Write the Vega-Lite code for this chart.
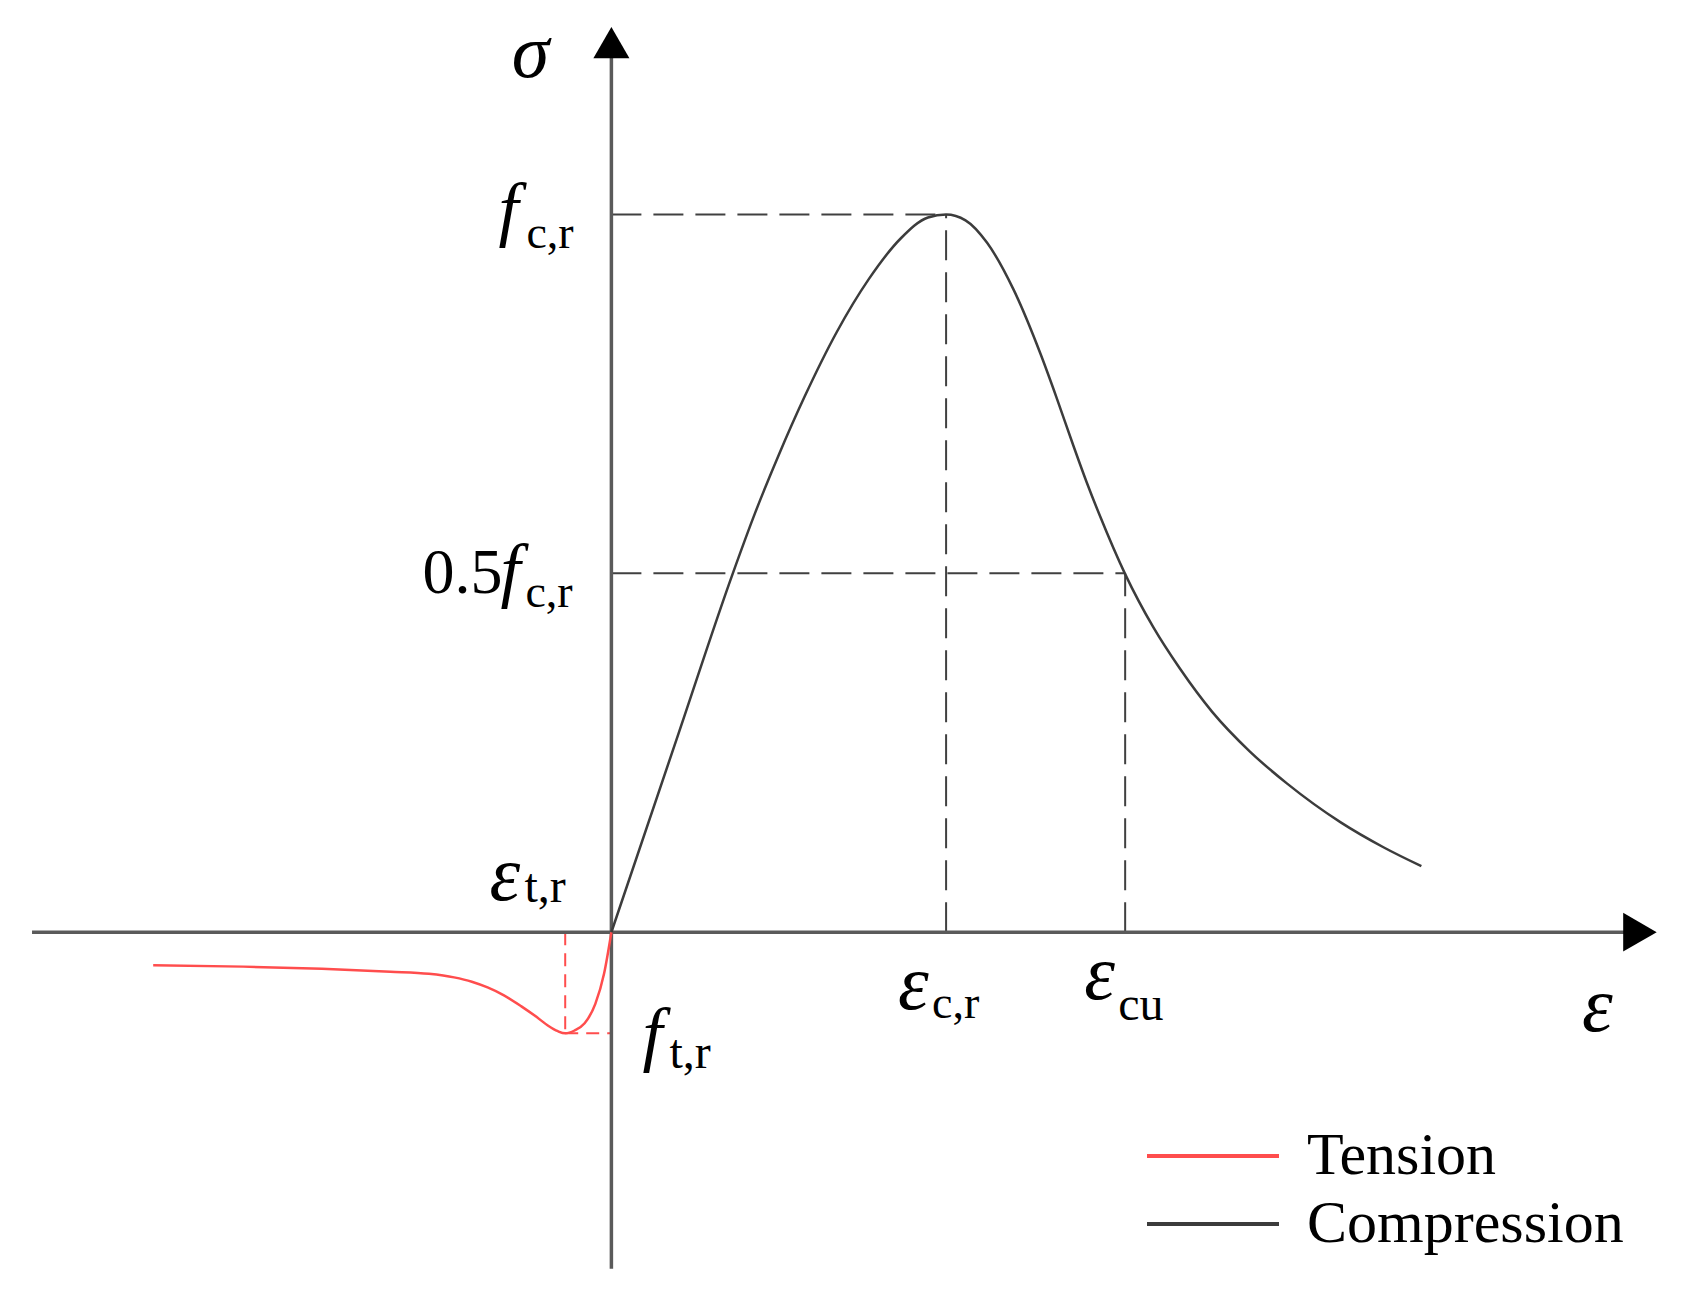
{
  "$schema": "https://vega.github.io/schema/vega-lite/v6.json",
  "width": 1682,
  "height": 1294,
  "autosize": {"type": "fit", "contains": "padding"},
  "padding": 0,
  "background": "white",
  "config": {"view": {"stroke": null}, "axis": {"disable": true}},
  "datasets": {
    "curves": [
      {"series": "Tension", "strain": -1.369, "stress": -0.046},
      {"series": "Tension", "strain": -1.1, "stress": -0.048},
      {"series": "Tension", "strain": -0.865, "stress": -0.051},
      {"series": "Tension", "strain": -0.66, "stress": -0.055},
      {"series": "Tension", "strain": -0.545, "stress": -0.058},
      {"series": "Tension", "strain": -0.47, "stress": -0.063},
      {"series": "Tension", "strain": -0.417, "stress": -0.069},
      {"series": "Tension", "strain": -0.37, "stress": -0.077},
      {"series": "Tension", "strain": -0.321, "stress": -0.088},
      {"series": "Tension", "strain": -0.27, "stress": -0.103},
      {"series": "Tension", "strain": -0.224, "stress": -0.118},
      {"series": "Tension", "strain": -0.19, "stress": -0.13},
      {"series": "Tension", "strain": -0.16, "stress": -0.138},
      {"series": "Tension", "strain": -0.138, "stress": -0.141},
      {"series": "Tension", "strain": -0.11, "stress": -0.137},
      {"series": "Tension", "strain": -0.08, "stress": -0.127},
      {"series": "Tension", "strain": -0.048, "stress": -0.1},
      {"series": "Tension", "strain": -0.022, "stress": -0.058},
      {"series": "Tension", "strain": 0, "stress": 0},
      {"series": "Compression", "strain": 0, "stress": 0},
      {"series": "Compression", "strain": 0.2, "stress": 0.276},
      {"series": "Compression", "strain": 0.362, "stress": 0.499},
      {"series": "Compression", "strain": 0.43, "stress": 0.585},
      {"series": "Compression", "strain": 0.5, "stress": 0.665},
      {"series": "Compression", "strain": 0.577, "stress": 0.746},
      {"series": "Compression", "strain": 0.673, "stress": 0.836},
      {"series": "Compression", "strain": 0.769, "stress": 0.91},
      {"series": "Compression", "strain": 0.865, "stress": 0.967},
      {"series": "Compression", "strain": 0.946, "stress": 0.996},
      {"series": "Compression", "strain": 1, "stress": 1},
      {"series": "Compression", "strain": 1.058, "stress": 0.992},
      {"series": "Compression", "strain": 1.122, "stress": 0.961},
      {"series": "Compression", "strain": 1.202, "stress": 0.895},
      {"series": "Compression", "strain": 1.282, "stress": 0.806},
      {"series": "Compression", "strain": 1.33, "stress": 0.745},
      {"series": "Compression", "strain": 1.378, "stress": 0.681},
      {"series": "Compression", "strain": 1.42, "stress": 0.627},
      {"series": "Compression", "strain": 1.458, "stress": 0.582},
      {"series": "Compression", "strain": 1.535, "stress": 0.499},
      {"series": "Compression", "strain": 1.619, "stress": 0.425},
      {"series": "Compression", "strain": 1.699, "stress": 0.367},
      {"series": "Compression", "strain": 1.795, "stress": 0.307},
      {"series": "Compression", "strain": 1.907, "stress": 0.252},
      {"series": "Compression", "strain": 2.019, "stress": 0.207},
      {"series": "Compression", "strain": 2.179, "stress": 0.153},
      {"series": "Compression", "strain": 2.308, "stress": 0.118},
      {"series": "Compression", "strain": 2.42, "stress": 0.092}
    ],
    "guides": [
      {"kind": "compression", "x": 0, "x2": 1, "y": 1, "y2": 1},
      {"kind": "compression", "x": 1, "x2": 1, "y": 0, "y2": 1},
      {"kind": "compression", "x": 0, "x2": 1.535, "y": 0.5, "y2": 0.5},
      {"kind": "compression", "x": 1.535, "x2": 1.535, "y": 0, "y2": 0.5},
      {"kind": "tension", "x": -0.138, "x2": -0.138, "y": 0, "y2": -0.141},
      {"kind": "tension", "x": -0.138, "x2": 0, "y": -0.141, "y2": -0.141}
    ],
    "one": [{}]
  },
  "layer": [
    {
      "data": {"name": "guides"},
      "transform": [{"filter": "datum.kind === 'compression'"}],
      "mark": {"type": "rule", "color": "#404040", "strokeWidth": 2, "strokeDash": [30, 12]},
      "encoding": {
        "x": {"field": "x", "type": "quantitative", "scale": {"domain": [-1.8267, 3.1987], "nice": false, "zero": false}, "axis": null},
        "x2": {"field": "x2"},
        "y": {"field": "y", "type": "quantitative", "scale": {"domain": [-0.5042, 1.299], "nice": false, "zero": false}, "axis": null},
        "y2": {"field": "y2"}
      }
    },
    {
      "data": {"name": "guides"},
      "transform": [{"filter": "datum.kind === 'tension'"}],
      "mark": {"type": "rule", "color": "#ff4d4d", "strokeWidth": 2, "strokeDash": [13, 8]},
      "encoding": {
        "x": {"field": "x", "type": "quantitative"},
        "x2": {"field": "x2"},
        "y": {"field": "y", "type": "quantitative"},
        "y2": {"field": "y2"}
      }
    },
    {
      "data": {"name": "one"},
      "mark": {"type": "rule", "color": "#5a5a5a", "strokeWidth": 3.5},
      "encoding": {"x": {"datum": -1.731}, "x2": {"datum": 3.04}, "y": {"datum": 0}}
    },
    {
      "data": {"name": "one"},
      "mark": {"type": "rule", "color": "#5a5a5a", "strokeWidth": 3.5},
      "encoding": {"x": {"datum": 0}, "y": {"datum": -0.469}, "y2": {"datum": 1.225}}
    },
    {
      "data": {"name": "one"},
      "mark": {"type": "point", "shape": "triangle-right", "filled": true, "color": "black", "opacity": 1, "size": 1500},
      "encoding": {"x": {"datum": 3.073}, "y": {"datum": 0}}
    },
    {
      "data": {"name": "one"},
      "mark": {"type": "point", "shape": "triangle-up", "filled": true, "color": "black", "opacity": 1, "size": 1300},
      "encoding": {"x": {"datum": 0}, "y": {"datum": 1.2397}}
    },
    {
      "data": {"name": "curves"},
      "mark": {"type": "line", "interpolate": "monotone", "strokeWidth": 2.5},
      "encoding": {
        "x": {"field": "strain", "type": "quantitative"},
        "y": {"field": "stress", "type": "quantitative"},
        "color": {
          "field": "series",
          "type": "nominal",
          "scale": {"domain": ["Tension", "Compression"], "range": ["#ff4d4d", "#3c3c3c"]},
          "legend": {
            "orient": "none",
            "legendX": 1145,
            "legendY": 1122,
            "title": null,
            "padding": 0,
            "symbolType": "stroke",
            "symbolSize": 17424,
            "symbolStrokeWidth": 4,
            "clipHeight": 68,
            "labelFont": "Liberation Serif",
            "labelFontSize": 60,
            "labelColor": "black",
            "labelLimit": 0,
            "labelOffset": 26,
            "rowPadding": 0
          }
        }
      }
    },
    {
      "data": {"name": "one"},
      "mark": {"type": "text", "text": "σ", "font": "Liberation Serif", "fontStyle": "italic", "fontSize": 76, "align": "center", "baseline": "alphabetic", "dx": -81, "dy": 34},
      "encoding": {"x": {"datum": 0}, "y": {"datum": 1.2397}}
    },
    {
      "data": {"name": "one"},
      "mark": {"type": "text", "text": "f", "font": "Liberation Serif", "fontStyle": "italic", "fontSize": 72, "align": "left", "baseline": "alphabetic", "dx": -113, "dy": 18},
      "encoding": {"x": {"datum": 0}, "y": {"datum": 1}}
    },
    {
      "data": {"name": "one"},
      "mark": {"type": "text", "text": "c,r", "font": "Liberation Serif", "fontSize": 46, "align": "left", "baseline": "alphabetic", "dx": -85, "dy": 33},
      "encoding": {"x": {"datum": 0}, "y": {"datum": 1}}
    },
    {
      "data": {"name": "one"},
      "mark": {"type": "text", "text": "0.5", "font": "Liberation Serif", "fontSize": 64, "align": "right", "baseline": "alphabetic", "dx": -109, "dy": 20},
      "encoding": {"x": {"datum": 0}, "y": {"datum": 0.5}}
    },
    {
      "data": {"name": "one"},
      "mark": {"type": "text", "text": "f", "font": "Liberation Serif", "fontStyle": "italic", "fontSize": 72, "align": "left", "baseline": "alphabetic", "dx": -111, "dy": 21},
      "encoding": {"x": {"datum": 0}, "y": {"datum": 0.5}}
    },
    {
      "data": {"name": "one"},
      "mark": {"type": "text", "text": "c,r", "font": "Liberation Serif", "fontSize": 46, "align": "left", "baseline": "alphabetic", "dx": -86, "dy": 34},
      "encoding": {"x": {"datum": 0}, "y": {"datum": 0.5}}
    },
    {
      "data": {"name": "one"},
      "mark": {"type": "text", "text": "ε", "font": "Liberation Serif", "fontStyle": "italic", "fontSize": 78, "align": "left", "baseline": "alphabetic", "dx": -122, "dy": -32},
      "encoding": {"x": {"datum": 0}, "y": {"datum": 0}}
    },
    {
      "data": {"name": "one"},
      "mark": {"type": "text", "text": "t,r", "font": "Liberation Serif", "fontSize": 48, "align": "left", "baseline": "alphabetic", "dx": -87, "dy": -30},
      "encoding": {"x": {"datum": 0}, "y": {"datum": 0}}
    },
    {
      "data": {"name": "one"},
      "mark": {"type": "text", "text": "f", "font": "Liberation Serif", "fontStyle": "italic", "fontSize": 72, "align": "left", "baseline": "alphabetic", "dx": 31, "dy": 25},
      "encoding": {"x": {"datum": 0}, "y": {"datum": -0.141}}
    },
    {
      "data": {"name": "one"},
      "mark": {"type": "text", "text": "t,r", "font": "Liberation Serif", "fontSize": 48, "align": "left", "baseline": "alphabetic", "dx": 58, "dy": 35},
      "encoding": {"x": {"datum": 0}, "y": {"datum": -0.141}}
    },
    {
      "data": {"name": "one"},
      "mark": {"type": "text", "text": "ε", "font": "Liberation Serif", "fontStyle": "italic", "fontSize": 78, "align": "left", "baseline": "alphabetic", "dx": -48, "dy": 77},
      "encoding": {"x": {"datum": 1}, "y": {"datum": 0}}
    },
    {
      "data": {"name": "one"},
      "mark": {"type": "text", "text": "c,r", "font": "Liberation Serif", "fontSize": 46, "align": "left", "baseline": "alphabetic", "dx": -14, "dy": 86},
      "encoding": {"x": {"datum": 1}, "y": {"datum": 0}}
    },
    {
      "data": {"name": "one"},
      "mark": {"type": "text", "text": "ε", "font": "Liberation Serif", "fontStyle": "italic", "fontSize": 78, "align": "left", "baseline": "alphabetic", "dx": -41, "dy": 67},
      "encoding": {"x": {"datum": 1.535}, "y": {"datum": 0}}
    },
    {
      "data": {"name": "one"},
      "mark": {"type": "text", "text": "cu", "font": "Liberation Serif", "fontSize": 48, "align": "left", "baseline": "alphabetic", "dx": -7, "dy": 88},
      "encoding": {"x": {"datum": 1.535}, "y": {"datum": 0}}
    },
    {
      "data": {"name": "one"},
      "mark": {"type": "text", "text": "ε", "font": "Liberation Serif", "fontStyle": "italic", "fontSize": 78, "align": "left", "baseline": "alphabetic", "dx": -58, "dy": 99},
      "encoding": {"x": {"datum": 3.073}, "y": {"datum": 0}}
    }
  ]
}
